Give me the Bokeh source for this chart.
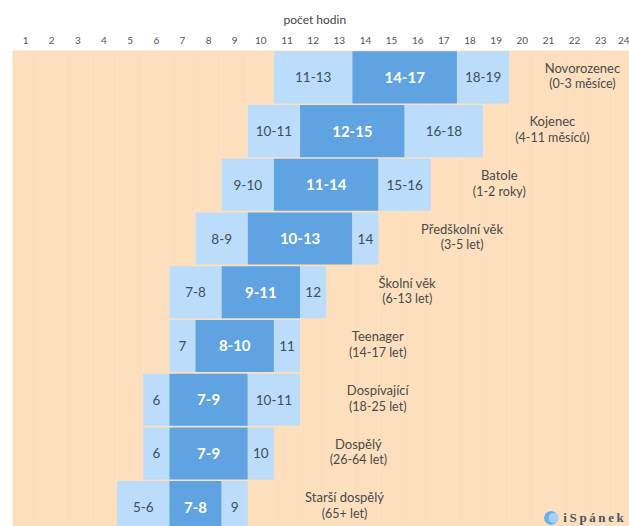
from bokeh.plotting import figure
from bokeh.models import Range1d, FixedTicker, ColumnDataSource, Title
from bokeh.core.properties import value
from bokeh.embed import file_html
from bokeh.resources import INLINE

hours = list(range(1, 25))
groups = ["Novorozenec", "Kojenec", "Batole", "Předškolní věk", "Školní věk",
          "Teenager", "Dospívající", "Dospělý", "Starší dospělý"]
ages = ["(0-3 měsíce)", "(4-11 měsíců)", "(1-2 roky)", "(3-5 let)", "(6-13 let)",
        "(14-17 let)", "(18-25 let)", "(26-64 let)", "(65+ let)"]
low_from = [11, 10, 9, 8, 7, 7, 6, 6, 5]
low_to = [13, 11, 10, 9, 8, 7, 6, 6, 6]
best_from = [14, 12, 11, 10, 9, 8, 7, 7, 7]
best_to = [17, 15, 14, 13, 11, 10, 9, 9, 8]
high_from = [18, 16, 15, 14, 12, 11, 10, 10, 9]
high_to = [19, 18, 16, 14, 12, 11, 11, 10, 9]
group_label_hour = [21.8, 20.65, 18.62, 17.2, 15.1, 13.97, 13.97, 13.23, 12.7]

PEACH = "#FDDFBE"
LIGHT = "#BBDCFA"
DARK = "#5FA3E2"
FONT = "Lato"


def span_label(a, b):
    return str(a) if a == b else f"{a}-{b}"


rows = list(range(len(groups)))

p = figure(width=629, height=526, output_backend="svg", toolbar_location=None,
           x_range=Range1d(0, 23.6), y_range=Range1d(8.36, -0.5),
           x_axis_location="above", min_border_left=12, min_border_right=0,
           min_border_top=50, min_border_bottom=0,
           background_fill_color=PEACH, border_fill_color="white", outline_line_color=None)

p.yaxis.visible = False
p.ygrid.visible = False
p.xgrid.ticker = FixedTicker(ticks=list(range(1, 24)))
p.xgrid.grid_line_color = "#FEE3C6"
p.xgrid.grid_line_width = 1

ax = p.xaxis[0]
ax.ticker = FixedTicker(ticks=[h - 0.5 for h in hours])
ax.major_label_overrides = {h - 0.5: str(h) for h in hours}
ax.major_tick_line_color = None
ax.minor_tick_line_color = None
ax.major_tick_out = 0
ax.major_tick_in = 0
ax.minor_tick_out = 0
ax.minor_tick_in = 0
ax.axis_line_color = None
ax.major_label_text_font = FONT
ax.major_label_text_font_size = "10px"
ax.major_label_text_color = "#555555"
ax.major_label_standoff = 7

p.add_layout(Title(text="počet hodin", align="left", offset=271, text_font=FONT,
                   text_font_style="normal", text_font_size="12px", text_color="#444444",
                   standoff=13), "above")

GAP = 0.97
for frm, to, col in [(low_from, low_to, LIGHT), (best_from, best_to, DARK), (high_from, high_to, LIGHT)]:
    src = ColumnDataSource(dict(
        y=rows,
        left=[a - 1 for a in frm],
        right=to,
        mid=[(a - 1 + b) / 2 for a, b in zip(frm, to)],
        lab=[span_label(a, b) for a, b in zip(frm, to)],
    ))
    p.hbar(y="y", left="left", right="right", height=GAP, source=src, fill_color=col, line_color=None)
    dark = col == DARK
    p.text(x="mid", y="y", text="lab", source=src, text_align="center", text_baseline="middle",
           text_font=value(FONT), text_font_size="15px" if dark else "13.5px",
           text_font_style="bold" if dark else "normal",
           text_color="#FFFFFF" if dark else "#3E4E5E")

p.text(x=group_label_hour, y=[r - 0.18 for r in rows], text=groups, text_align="center", text_baseline="middle",
       text_font=value(FONT), text_font_size="13px", text_color="#4A4A4A")
p.text(x=group_label_hour, y=[r + 0.12 for r in rows], text=ages, text_align="center", text_baseline="middle",
       text_font=value(FONT), text_font_size="12.5px", text_color="#4A4A4A")

p.scatter(x=[20.6], y=[8.2], size=14, marker="circle", fill_color="#6FB0EC", line_color=None)
p.scatter(x=[20.7], y=[8.2], size=10, marker="circle", fill_color="#A9D2F6", line_color=None)
p.text(x=[21.07], y=[8.2], text=["i\u2009S\u2009p\u2009á\u2009n\u2009e\u2009k"], text_align="left", text_baseline="middle",
       text_font=value("Liberation Serif"), text_font_size="13px", text_font_style="bold", text_color="#4A5560")

open("out.html", "w").write(file_html(p, INLINE))
